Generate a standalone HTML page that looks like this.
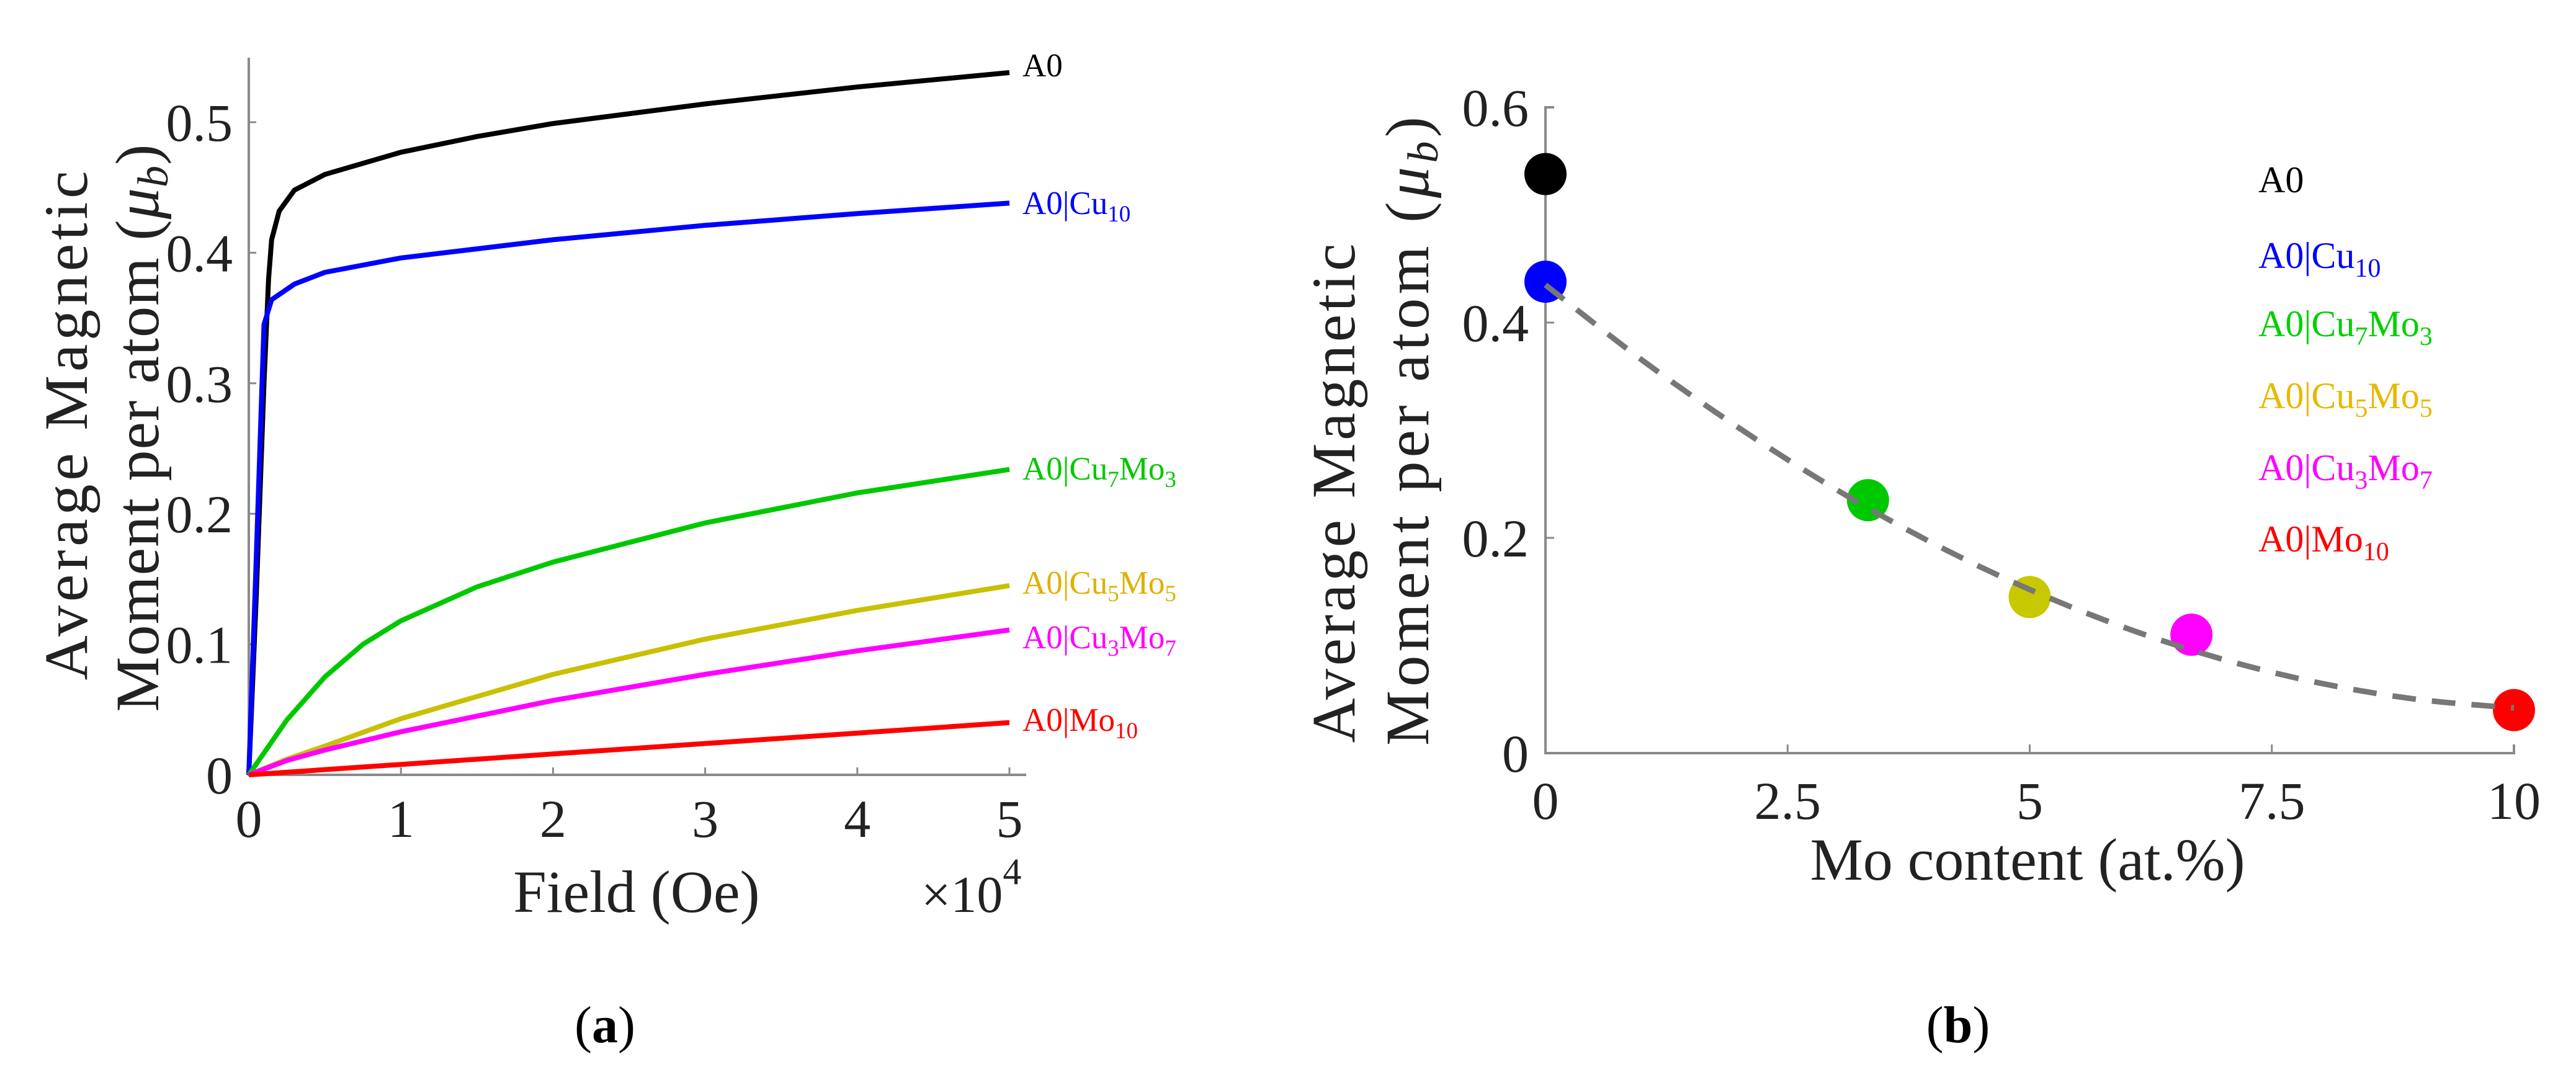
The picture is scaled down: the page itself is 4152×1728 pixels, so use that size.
<!DOCTYPE html>
<html><head><meta charset="utf-8"><style>
html,body{margin:0;padding:0;background:#fff;}
svg{display:block;}
text,tspan{font-family:"Liberation Serif","DejaVu Serif",serif;}
</style></head><body>
<svg id="fig" width="4152" height="1728" viewBox="0 0 4152 1728" font-family="Liberation Serif, serif">
<g id="pa"></g>
<g id="pb"></g>
<text x="975" y="1680" font-size="84" font-weight="bold" text-anchor="middle" font-family="Liberation Serif, serif"><tspan font-weight="normal">(</tspan>a<tspan font-weight="normal">)</tspan></text>
<text x="3156" y="1680" font-size="84" font-weight="bold" text-anchor="middle" font-family="Liberation Serif, serif"><tspan font-weight="normal">(</tspan>b<tspan font-weight="normal">)</tspan></text>
</svg>
<script>
// ---- Panel A data (field in 1e4 Oe) ----
const aXTicks = [0,1,2,3,4,5];
const aYTicks = [0,0.1,0.2,0.3,0.4,0.5];
const aYTickLabels = ["0","0.1","0.2","0.3","0.4","0.5"];
const fA0   = [0,0.05,0.1,0.13,0.15,0.2,0.3,0.5,1,1.5,2,3,4,5];
const vA0   = [0,0.14,0.3,0.38,0.41,0.432,0.448,0.46,0.477,0.489,0.499,0.514,0.527,0.538];
const fCu10 = [0,0.05,0.1,0.15,0.3,0.5,1,2,3,4,5];
const vCu10 = [0,0.17,0.345,0.364,0.376,0.385,0.396,0.41,0.421,0.43,0.438];
const fC73  = [0,0.25,0.5,0.75,1,1.5,2,3,4,5];
const vC73  = [0,0.042,0.075,0.1,0.118,0.144,0.163,0.193,0.216,0.234];
const fC55  = [0,0.25,0.5,1,2,3,4,5];
const vC55  = [0,0.012,0.022,0.043,0.077,0.104,0.126,0.145];
const fC37  = [0,0.25,0.5,1,2,3,4,5];
const vC37  = [0,0.011,0.019,0.033,0.057,0.077,0.095,0.111];
const fMo10 = [0,1,2,3,4,5];
const vMo10 = [0,0.008,0.016,0.024,0.032,0.04];
// ---- Panel B data ----
const bXTicks = [0,2.5,5,7.5,10];
const bXTickLabels = ["0","2.5","5","7.5","10"];
const bYTicks = [0,0.2,0.4,0.6];
const bYTickLabels = ["0","0.2","0.4","0.6"];
const moContent = [0,0,3.33,5,6.67,10];
const moMoment  = [0.538,0.438,0.235,0.145,0.11,0.04];
const fitX = [0,1,2,3,4,5,6,7,8,9,10];
const fitY = [0.435,0.365,0.302,0.245,0.195,0.152,0.116,0.087,0.065,0.05,0.042];

const NS="http://www.w3.org/2000/svg";
const FF="Liberation Serif, DejaVu Serif, serif";
function mk(parent,tag,attrs,text){const e=document.createElementNS(NS,tag);for(const k in attrs)e.setAttribute(k,attrs[k]);if(tag==='text')e.setAttribute('font-family',FF);if(text!==undefined)e.textContent=text;parent.appendChild(e);return e;}
function smooth(xs,ys,fx,fy){
  const p=xs.map((x,i)=>[fx(x),fy(ys[i])]);
  let d='M'+p[0][0].toFixed(1)+' '+p[0][1].toFixed(1);
  for(let i=0;i<p.length-1;i++){
    const p0=p[i-1]||p[i],p1=p[i],p2=p[i+1],p3=p[i+2]||p2;
    const c1=[p1[0]+(p2[0]-p0[0])/6,p1[1]+(p2[1]-p0[1])/6];
    const c2=[p2[0]-(p3[0]-p1[0])/6,p2[1]-(p3[1]-p1[1])/6];
    d+=` C${c1[0].toFixed(1)} ${c1[1].toFixed(1)} ${c2[0].toFixed(1)} ${c2[1].toFixed(1)} ${p2[0].toFixed(1)} ${p2[1].toFixed(1)}`;
  }
  return d;
}

// Panel A scales
const ax=v=>401+v*(1627-401)/5;
const ay=v=>1249-v*2104;
const pa=document.getElementById('pa');
let el;
el=mk(pa,'path',{d:`M${ax(0)} 93 V${ay(0)} H1654`,fill:'none',stroke:'#8a8a8a','stroke-width':4});


aYTicks.forEach((t,i)=>{
  el=mk(pa,'line',{x1:ax(0),x2:ax(0)+12,y1:ay(t),y2:ay(t),stroke:'#8a8a8a','stroke-width':3});
  
  
  el=mk(pa,'text',{x:375,y:ay(t)+30,'font-size':86,'text-anchor':'end',fill:'#222'},aYTickLabels[i]);
  
  
});
aXTicks.forEach(t=>{
  el=mk(pa,'line',{x1:ax(t),x2:ax(t),y1:ay(0),y2:ay(0)-12,stroke:'#8a8a8a','stroke-width':3});
  
  
  el=mk(pa,'text',{x:ax(t),y:1349,'font-size':86,'text-anchor':'middle',fill:'#222'},String(t));
  
  
});
el=mk(pa,'text',{x:1026,y:1470,'font-size':96,'text-anchor':'middle',fill:'#222'},'Field (Oe)');


el=mk(pa,'text',{x:1485,y:1470,'font-size':84,fill:'#222'},'×10');


mk(el,'tspan',{dy:-45,'font-size':60},'4');
el=mk(pa,'text',{x:0,y:0,'font-size':100,'text-anchor':'middle',fill:'#222',transform:'translate(140 686) rotate(-90)',textLength:821,lengthAdjust:'spacing'},'Average Magnetic');


el=mk(pa,'text',{x:0,y:0,'font-size':100,'text-anchor':'middle',fill:'#222',transform:'translate(255 690) rotate(-90)',textLength:915,lengthAdjust:'spacing'},'Moment per atom (');


mk(el,'tspan',{'font-style':'italic'},'μ');mk(el,'tspan',{'font-style':'italic','font-size':70,dy:15},'b');mk(el,'tspan',{dy:-15},')');

const seriesA=[
 {f:fA0,v:vA0,c:'#000000',lab:['A0'],ly:123,n:'a0'},
 {f:fCu10,v:vCu10,c:'#0000ff',lab:['A0|Cu','10'],ly:345,n:'a0-cu10'},
 {f:fC73,v:vC73,c:'#00c800',lab:['A0|Cu','7','Mo','3'],ly:773,n:'a0-cu7mo3'},
 {f:fC55,v:vC55,c:'#c8c000',lab:['A0|Cu','5','Mo','5'],ly:957,n:'a0-cu5mo5'},
 {f:fC37,v:vC37,c:'#ff00ff',lab:['A0|Cu','3','Mo','7'],ly:1045,n:'a0-cu3mo7'},
 {f:fMo10,v:vMo10,c:'#ff0000',lab:['A0|Mo','10'],ly:1178,n:'a0-mo10'}
];
const labColA={'#c8c000':'#e0b000'};
seriesA.forEach(s=>{
  const d=s.f.map((x,i)=>(i?'L':'M')+ax(x).toFixed(1)+' '+ay(s.v[i]).toFixed(1)).join(' ');
  el=mk(pa,'path',{d:d,fill:'none',stroke:s.c,'stroke-width':8,'stroke-linejoin':'round'});
  
  
  el=mk(pa,'text',{x:1648,y:s.ly,'font-size':53,fill:labColA[s.c]||s.c});
  
  
  s.lab.forEach((p,i)=>{ if(i%2===0) mk(el,'tspan',{dy:i?-12:0},p); else mk(el,'tspan',{'font-size':37,dy:12},p); });
});

// Panel B scales
const bx=v=>2491+v*(4052-2491)/10;
const by=v=>1214-v*1735;
const pb=document.getElementById('pb');
el=mk(pb,'path',{d:`M${bx(0)+14} ${by(0.6)} H${bx(0)} V${by(0)} H${bx(10)} V${by(0)-14}`,fill:'none',stroke:'#8a8a8a','stroke-width':4});


bYTicks.forEach((t,i)=>{
  el=mk(pb,'line',{x1:bx(0),x2:bx(0)+14,y1:by(t),y2:by(t),stroke:'#8a8a8a','stroke-width':3});
  
  
  el=mk(pb,'text',{x:2464,y:by(t)+30,'font-size':86,'text-anchor':'end',fill:'#222'},bYTickLabels[i]);
  
  
});
bXTicks.forEach((t,i)=>{
  el=mk(pb,'line',{x1:bx(t),x2:bx(t),y1:by(0),y2:by(0)-14,stroke:'#8a8a8a','stroke-width':3});
  
  
  el=mk(pb,'text',{x:bx(t),y:1320,'font-size':86,'text-anchor':'middle',fill:'#222'},bXTickLabels[i]);
  
  
});
el=mk(pb,'text',{x:3268,y:1418,'font-size':96,'text-anchor':'middle',fill:'#222'},'Mo content (at.%)');


el=mk(pb,'text',{x:0,y:0,'font-size':100,'text-anchor':'middle',fill:'#222',transform:'translate(2183 795) rotate(-90)',textLength:805,lengthAdjust:'spacing'},'Average Magnetic');


el=mk(pb,'text',{x:0,y:0,'font-size':100,'text-anchor':'middle',fill:'#222',transform:'translate(2302 695) rotate(-90)',textLength:1014,lengthAdjust:'spacing'},'Moment per atom (');


mk(el,'tspan',{'font-style':'italic'},'μ');mk(el,'tspan',{'font-style':'italic','font-size':70,dy:15},'b');mk(el,'tspan',{dy:-15},')');

const bColors=['#000000','#0000ff','#00c800','#c8c800','#ff00ff','#ff0000'];
const bNames=['a0','a0-cu10','a0-cu7mo3','a0-cu5mo5','a0-cu3mo7','a0-mo10'];
moContent.forEach((x,i)=>{
  el=mk(pb,'ellipse',{cx:bx(x),cy:by(moMoment[i]),rx:34,ry:34,fill:bColors[i]});
  
  
});
el=mk(pb,'path',{d:smooth(fitX,fitY,bx,by),fill:'none',stroke:'#777','stroke-width':9,'stroke-dasharray':'38 26'});



const legLabels=[['A0'],['A0|Cu','10'],['A0|Cu','7','Mo','3'],['A0|Cu','5','Mo','5'],['A0|Cu','3','Mo','7'],['A0|Mo','10']];
const legCols=['#000000','#0000ff','#00d000','#e8b800','#ff00ff','#ff0000'];
const legY=[310,432,542,658,774,889];
legLabels.forEach((lab,k)=>{
  el=mk(pb,'text',{x:3640,y:legY[k],'font-size':60,fill:legCols[k]});
  
  
  lab.forEach((p,i)=>{ if(i%2===0) mk(el,'tspan',{dy:i?-14:0},p); else mk(el,'tspan',{'font-size':42,dy:14},p); });
});
</script>
</body></html>
